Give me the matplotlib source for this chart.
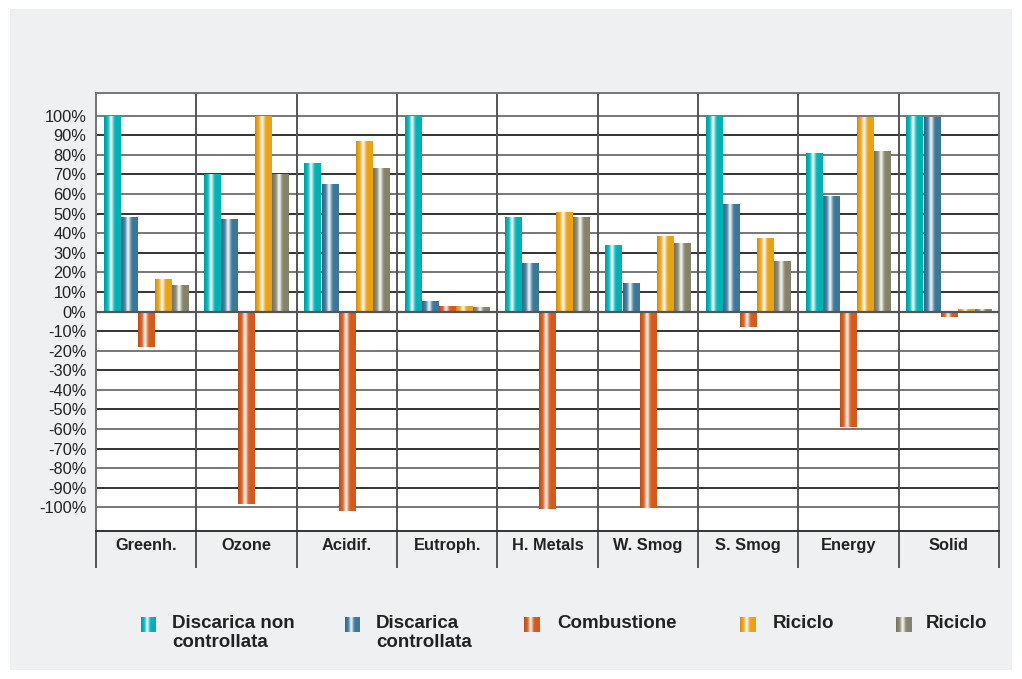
import numpy as np
import matplotlib.pyplot as plt
import matplotlib.colors as mcolors
from matplotlib.patches import Rectangle
import matplotlib.transforms as mtransforms

plt.rcParams['font.family'] = ['Liberation Sans', 'DejaVu Sans']

categories = ['Greenh.', 'Ozone', 'Acidif.', 'Eutroph.', 'H. Metals',
              'W. Smog', 'S. Smog', 'Energy', 'Solid']
series_names = ['Discarica non\ncontrollata', 'Discarica\ncontrollata',
                'Combustione', 'Riciclo', 'Riciclo']
discarica_non_controllata = [100, 70, 76, 100, 48, 34, 100, 81, 100]
discarica_controllata = [48, 47, 65, 5.5, 24.5, 14.5, 55, 59, 99]
combustione = [-18, -98, -102, 3, -101, -100.5, -8, -59, -3]
riciclo_1 = [16.5, 100, 87, 3, 51, 38.5, 37.5, 99.5, 1.5]
riciclo_2 = [13.5, 70, 73, 2.5, 48, 35, 26, 82, 1.5]
y_ticks = list(range(-100, 101, 10))

series = [discarica_non_controllata, discarica_controllata, combustione,
          riciclo_1, riciclo_2]
colors = ['#00b1b4', '#3b7797', '#d35a1c', '#e9a216', '#85826a']
bg = '#eff0f2'


def gradient(color, n=64):
    # cylinder-like shading: light streak left of centre
    base = np.array(mcolors.to_rgb(color))
    t = np.linspace(0, 1, n)
    light = 0.88 * np.exp(-((t - 0.42) / 0.14) ** 2)
    dark = 0.12 * np.exp(-((t - 0.0) / 0.08) ** 2)
    rgb = base[None, :] * (1 - light[:, None]) + light[:, None]
    rgb = rgb * (1 - dark[:, None])
    return rgb[None, :, :]


fig = plt.figure(figsize=(10.22, 6.79), dpi=100)
fig.patch.set_facecolor('white')
fig.patches.append(Rectangle((10 / 1022, 9 / 679), 1002 / 1022, 661 / 679,
                             transform=fig.transFigure, facecolor=bg,
                             edgecolor='none', zorder=-10))

ax = fig.add_axes([96 / 1022, 1 - 531 / 679, 903 / 1022, 438 / 679])
ax.set_facecolor('white')

x = np.arange(len(categories)) + 0.5
width = 0.17
offsets = [-2, -1, 0, 1, 2]
for vals, col, off in zip(series, colors, offsets):
    bars = ax.bar(x + off * width, vals, width * 0.97, color=col, zorder=3)
    for b in bars:
        x0, w = b.get_x(), b.get_width()
        h = b.get_height()
        y0, y1 = min(0, h), max(0, h)
        im = ax.imshow(gradient(col), extent=[x0, x0 + w, y0, y1],
                       aspect='auto', interpolation='bilinear', zorder=4)
        im.set_clip_path(b)

ax.set_xlim(0, len(categories))
ax.set_ylim(-112, 111.5)
ax.set_yticks(y_ticks)
ax.set_yticklabels([f'{v}%' for v in y_ticks], fontsize=11.8, color='#222222')
ax.tick_params(axis='y', length=0, pad=7)
ax.set_xticks([])

for i, v in enumerate(y_ticks):
    ax.axhline(v, color='#333333' if i % 2 else '#777777', lw=1.4, zorder=1)
ax.axhline(0, color='#555555', lw=1.6, zorder=5)

trans = mtransforms.blended_transform_factory(ax.transData, ax.transAxes)
for i in range(len(categories) + 1):
    ax.plot([i, i], [-0.083, 1], transform=trans, color='#555555', lw=1.4,
            clip_on=False, zorder=2)
for xi, name in zip(x, categories):
    ax.text(xi, -0.033, name, transform=trans, ha='center', va='center',
            fontsize=11.8, fontweight='bold', color='#222222')

for s in ['top', 'right', 'left']:
    ax.spines[s].set_color('#777777')
    ax.spines[s].set_linewidth(1.4)
ax.spines['bottom'].set_color('#333333')
ax.spines['bottom'].set_linewidth(1.4)

# legend
marker_x = [141, 345, 524, 740, 896]
text_x = [172, 376, 557, 773, 926]
for mx, tx, col, name in zip(marker_x, text_x, colors, series_names):
    max_ = fig.add_axes([mx / 1022, 1 - 632 / 679, 15 / 1022, 15 / 679])
    max_.imshow(gradient(col), aspect='auto', interpolation='bilinear')
    max_.axis('off')
    fig.text(tx / 1022, 1 - 615 / 679, name, ha='left', va='top',
             fontsize=13.5, fontweight='bold', color='#222222',
             linespacing=1.12)

fig.savefig('out.png', dpi=100, facecolor=fig.get_facecolor())
